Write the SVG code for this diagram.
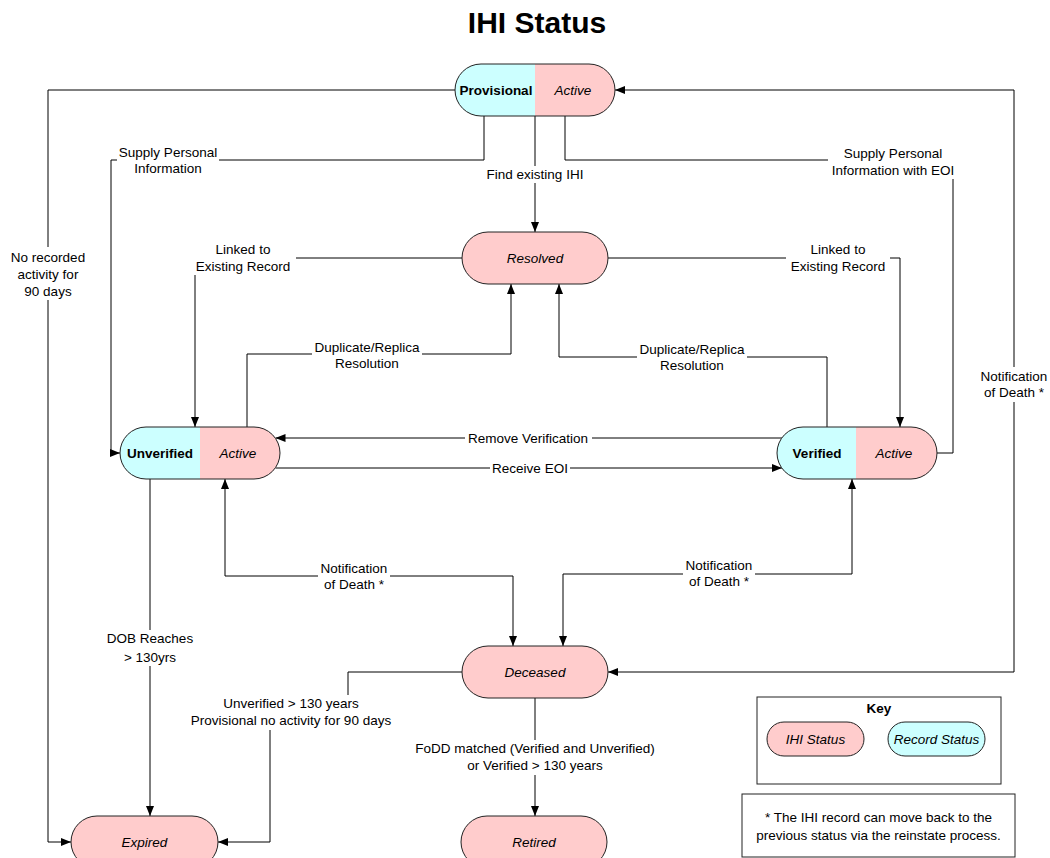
<svg xmlns="http://www.w3.org/2000/svg" width="1050" height="858" viewBox="0 0 1050 858">
<style>
text{font-family:"Liberation Sans",Arial,sans-serif;font-size:13.5px;text-anchor:middle;fill:#000}
.b{font-weight:bold}
.i{font-style:italic}
.title{font-size:30px;font-weight:bold}
.c{fill:none;stroke:#000;stroke-width:1}
.bg{fill:#fff}
.pk{fill:#FFCCCC}
.cy{fill:#CCFFFF}
.ol{fill:none;stroke:#222;stroke-width:1}
.box{fill:#fff;stroke:#222;stroke-width:1}
</style>
<defs>
<marker id="ah" viewBox="0 0 10 8" refX="10" refY="4" markerWidth="10" markerHeight="8" markerUnits="userSpaceOnUse" orient="auto-start-reverse">
<path d="M0,0 L10,4 L0,8 Z" fill="#000"/>
</marker>
</defs>
<rect width="1050" height="858" fill="#fff"/>
<text class="title" x="537" y="33">IHI Status</text>

<g id="connectors">
<path class="c" d="M455,90 H48 V842 H71" marker-end="url(#ah)"/>
<path class="c" d="M484,116 V160 H111 V453 H120" marker-end="url(#ah)"/>
<path class="c" d="M535,116 V232" marker-end="url(#ah)"/>
<path class="c" d="M565,116 V160 H953 V453 H937"/>
<path class="c" d="M615,90 H1014 V672 H608" marker-start="url(#ah)" marker-end="url(#ah)"/>
<path class="c" d="M462,258 H195 V427" marker-end="url(#ah)"/>
<path class="c" d="M608,258 H900 V427" marker-end="url(#ah)"/>
<path class="c" d="M247,427 V354 H511 V284" marker-end="url(#ah)"/>
<path class="c" d="M827,427 V357 H559 V284" marker-end="url(#ah)"/>
<path class="c" d="M782,438 H275.5" marker-end="url(#ah)"/>
<path class="c" d="M275.5,468 H782" marker-end="url(#ah)"/>
<path class="c" d="M225,479 V576 H513 V646" marker-start="url(#ah)" marker-end="url(#ah)"/>
<path class="c" d="M852,479 V574 H563 V646" marker-start="url(#ah)" marker-end="url(#ah)"/>
<path class="c" d="M150,479 V816" marker-end="url(#ah)"/>
<path class="c" d="M462,672 H348 V712 H270 V842 H218" marker-end="url(#ah)"/>
<path class="c" d="M535,698 V816" marker-end="url(#ah)"/>

<g id="labels">
<rect class="bg" x="9" y="247" width="78" height="53"/>
<text x="48" y="262">No recorded</text>
<text x="48" y="279">activity for</text>
<text x="48" y="296">90 days</text>

<rect class="bg" x="117" y="145" width="102" height="31"/>
<text x="168" y="157">Supply Personal</text>
<text x="168" y="173">Information</text>

<rect class="bg" x="480" y="166" width="110" height="17"/>
<text x="535" y="179">Find existing IHI</text>

<rect class="bg" x="828" y="145" width="130" height="34"/>
<text x="893" y="158">Supply Personal</text>
<text x="893" y="175">Information with EOI</text>

<rect class="bg" x="190" y="241" width="106" height="34"/>
<text x="243" y="254">Linked to</text>
<text x="243" y="271">Existing Record</text>

<rect class="bg" x="786" y="241" width="104" height="34"/>
<text x="838" y="254">Linked to</text>
<text x="838" y="271">Existing Record</text>

<rect class="bg" x="312" y="339" width="110" height="32"/>
<text x="367" y="352">Duplicate/Replica</text>
<text x="367" y="368">Resolution</text>

<rect class="bg" x="637" y="341" width="110" height="32"/>
<text x="692" y="354">Duplicate/Replica</text>
<text x="692" y="370">Resolution</text>

<rect class="bg" x="465" y="430" width="127" height="16"/>
<text x="528" y="443">Remove Verification</text>

<rect class="bg" x="490" y="460" width="80" height="16"/>
<text x="530" y="473">Receive EOI</text>

<rect class="bg" x="318" y="560" width="72" height="33"/>
<text x="354" y="573">Notification</text>
<text x="354" y="589">of Death *</text>

<rect class="bg" x="683" y="557" width="72" height="33"/>
<text x="719" y="570">Notification</text>
<text x="719" y="586">of Death *</text>

<rect class="bg" x="978" y="367" width="72" height="35"/>
<text x="1014" y="381">Notification</text>
<text x="1014" y="397">of Death *</text>

<rect class="bg" x="103" y="630" width="94" height="36"/>
<text x="150" y="643">DOB Reaches</text>
<text x="150" y="662">&gt; 130yrs</text>

<rect class="bg" x="188" y="695" width="206" height="35"/>
<text x="291" y="708">Unverified &gt; 130 years</text>
<text x="291" y="725">Provisional no activity for 90 days</text>

<rect class="bg" x="408" y="740" width="254" height="35"/>
<text x="535" y="753">FoDD matched (Verified and Unverified)</text>
<text x="535" y="770">or Verified &gt; 130 years</text>
</g>
</g>

<g id="provisional">
<path class="cy" d="M481,64 H535 V116 H481 A26,26 0 0 1 481,64 Z"/>
<path class="pk" d="M535,64 H589 A26,26 0 0 1 589,116 H535 Z"/>
<rect class="ol" x="455" y="64" width="160" height="52" rx="26"/>
<text class="b" x="496" y="95">Provisional</text>
<text class="i" x="573" y="95">Active</text>
</g>

<g id="resolved">
<rect class="pk" x="462" y="232" width="146" height="52" rx="26" stroke="#222"/>
<text class="i" x="535" y="263">Resolved</text>
</g>

<g id="unverified">
<path class="cy" d="M146,427 H200 V479 H146 A26,26 0 0 1 146,427 Z"/>
<path class="pk" d="M200,427 H254 A26,26 0 0 1 254,479 H200 Z"/>
<rect class="ol" x="120" y="427" width="160" height="52" rx="26"/>
<text class="b" x="160" y="458">Unverified</text>
<text class="i" x="238" y="458">Active</text>
</g>

<g id="verified">
<path class="cy" d="M803,427 H856 V479 H803 A26,26 0 0 1 803,427 Z"/>
<path class="pk" d="M856,427 H911 A26,26 0 0 1 911,479 H856 Z"/>
<rect class="ol" x="777" y="427" width="160" height="52" rx="26"/>
<text class="b" x="817" y="458">Verified</text>
<text class="i" x="894" y="458">Active</text>
</g>

<g id="deceased">
<rect class="pk" x="462" y="646" width="146" height="52" rx="26" stroke="#222"/>
<text class="i" x="535" y="677">Deceased</text>
</g>

<g id="expired">
<rect class="pk" x="71" y="816" width="147" height="52" rx="26" stroke="#222"/>
<text class="i" x="144.5" y="847">Expired</text>
</g>

<g id="retired">
<rect class="pk" x="461" y="816" width="146" height="52" rx="26" stroke="#222"/>
<text class="i" x="534" y="847">Retired</text>
</g>

<g id="key">
<rect class="box" x="757" y="697" width="244" height="87"/>
<text class="b" x="879" y="713">Key</text>
<rect class="pk" x="767" y="722" width="97" height="34" rx="17" stroke="#222"/>
<text class="i" x="815.5" y="744">IHI Status</text>
<rect class="cy" x="888" y="722" width="97" height="34" rx="17" stroke="#222"/>
<text class="i" x="936.5" y="744">Record Status</text>
</g>

<g id="note">
<rect class="box" x="742" y="794" width="273" height="63"/>
<text x="878.5" y="822">* The IHI record can move back to the</text>
<text x="878.5" y="840">previous status via the reinstate process.</text>
</g>
</svg>
